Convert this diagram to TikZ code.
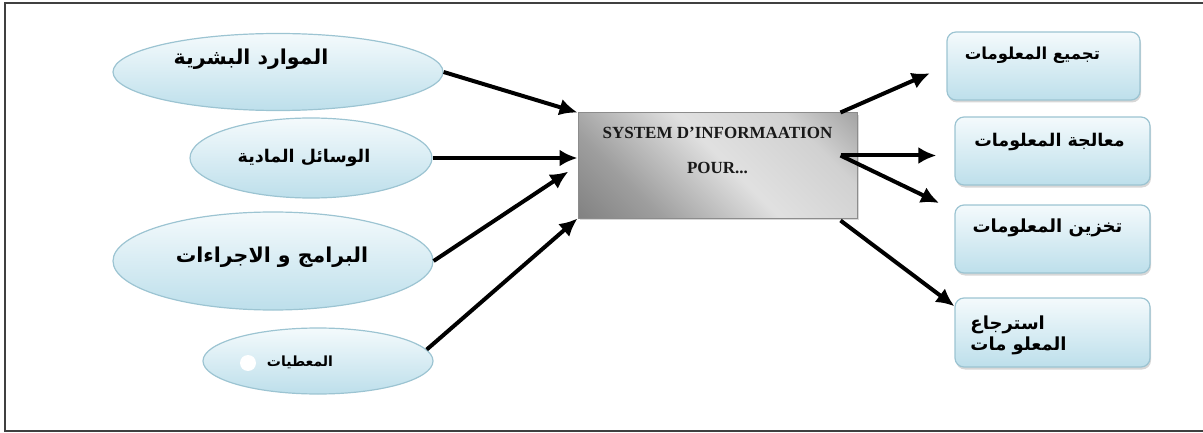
\documentclass[tikz,border=0pt]{standalone}
\usepackage{fontspec}
\usepackage{tikz}
\usetikzlibrary{arrows.meta, shapes.geometric, shadows, calc}
\TeXXeTstate=1
\newfontfamily\arabicfont[Script=Arabic]{DejaVu Sans}
\newfontfamily\latinfont{Liberation Serif}
\newcommand{\Ar}{\arabicfont\bfseries}
\newcommand{\Fs}[1]{\fontsize{#1}{1.2\dimexpr#1pt\relax}\selectfont}
\definecolor{skyedge}{HTML}{9CC4D2}
\definecolor{skytop}{HTML}{F4FAFC}
\definecolor{skybot}{HTML}{BDDFEB}
\pgfdeclarehorizontalshading{steel}{100bp}{color(0bp)=(black!60); color(30bp)=(black!38); color(52bp)=(black!12); color(72bp)=(black!18); color(100bp)=(black!55)}
\tikzset{
    bubble/.style={ellipse, draw=skyedge, line width=1.2pt, top color=skytop, bottom color=skybot, inner sep=0pt},
    panel/.style={rectangle, rounded corners=9pt, draw=skyedge, line width=1.2pt,
      top color=skytop, bottom color=skybot, minimum width=195pt, minimum height=68pt,
      drop shadow={shadow xshift=1pt, shadow yshift=-2.5pt, fill=black!35, opacity=.45}},
    core/.style={rectangle, draw=black!45, line width=1pt, minimum width=279pt, minimum height=105pt,
      shading=steel, shading angle=45,
      drop shadow={shadow xshift=2pt, shadow yshift=-2pt, fill=black!30, opacity=.5}},
    flow/.style={-{Latex[length=18pt,width=17pt]}, line width=4pt},
    every label/.append style={inner sep=0pt},
}

\begin{document}
\begin{tikzpicture}[x=1pt, y=1pt]
    \useasboundingbox (0,0) rectangle (1203,432);
    \draw[line width=1.6pt, black!75] (5,1) rectangle (1220,429);

    % inputs
    \node[bubble, minimum width=330pt, minimum height=77pt,
      label={[shift={(-27,13)}, font=\Ar\Fs{20.5}]center:\beginR الموارد البشرية\endR}] (hr) at (278,360) {};
    \node[bubble, minimum width=242pt, minimum height=80pt,
      label={[shift={(-7,0)}, font=\Ar\Fs{17.5}]center:\beginR الوسائل المادية\endR}] (tools) at (311,274) {};
    \node[bubble, minimum width=320pt, minimum height=98pt,
      label={[shift={(-1,4)}, font=\Ar\Fs{20.5}]center:\beginR البرامج و الاجراءات\endR}] (soft) at (273,171) {};
    \node[bubble, minimum width=230pt, minimum height=66pt,
      label={[shift={(-18,-1)}, font=\Ar\Fs{14}]center:\beginR المعطيات\endR}] (data) at (318,71) {};
    \fill[white] ([shift={(-70,-2)}]data.center) circle (8);

    % system
    \node[core,
      label={[shift={(0,33)}, font=\latinfont\bfseries\Fs{17}, text=black!90]center:SYSTEM D’INFORMAATION},
      label={[shift={(0,-2)}, font=\latinfont\bfseries\Fs{17}, text=black!90]center:POUR...}] (sys) at (717.5,266.5) {};

    % outputs
    \node[panel, minimum width=193pt,
      label={[shift={(-11,11)}, font=\Ar\Fs{16.5}]center:\beginR تجميع المعلومات\endR}] (collect) at (1043.5,366) {};
    \node[panel,
      label={[shift={(-3,9)}, font=\Ar\Fs{17.5}]center:\beginR معالجة المعلومات\endR}] (process) at (1052.5,281) {};
    \node[panel,
      label={[shift={(-5,11)}, font=\Ar\Fs{18}]center:\beginR تخزين المعلومات\endR}] (store) at (1052.5,193) {};
    \node[panel, minimum height=69pt,
      label={[shift={(-34,-3)}, font=\Ar\Fs{18}, align=left]center:\beginR استرجاع\endR\\\beginR المعلو مات\endR}] (fetch) at (1052.5,99.5) {};

    \coordinate (o1) at ([xshift=-17pt]sys.north east);
    \coordinate (hub) at ([xshift=-17pt, yshift=10pt]sys.east);
    \coordinate (o4) at ([xshift=-17pt, yshift=-2pt]sys.south east);

    \draw[flow] (hr.east) -- (sys.north west);
    \draw[flow] (tools.east) -- (tools.east -| sys.west);
    \draw[flow, shorten >=11pt] (soft.east) -- (sys.west);
    \draw[flow] (data.6) -- (sys.south west);

    \draw[flow, shorten >=18pt] (o1) -- (collect.west);
    \draw[flow, shorten >=18pt] (hub) -- (hub -| process.west);
    \draw[flow, shorten >=17pt] (hub) -- ([yshift=-6pt]store.north west);
    \draw[flow] (o4) -- (fetch.165);
\end{tikzpicture}
\end{document}
